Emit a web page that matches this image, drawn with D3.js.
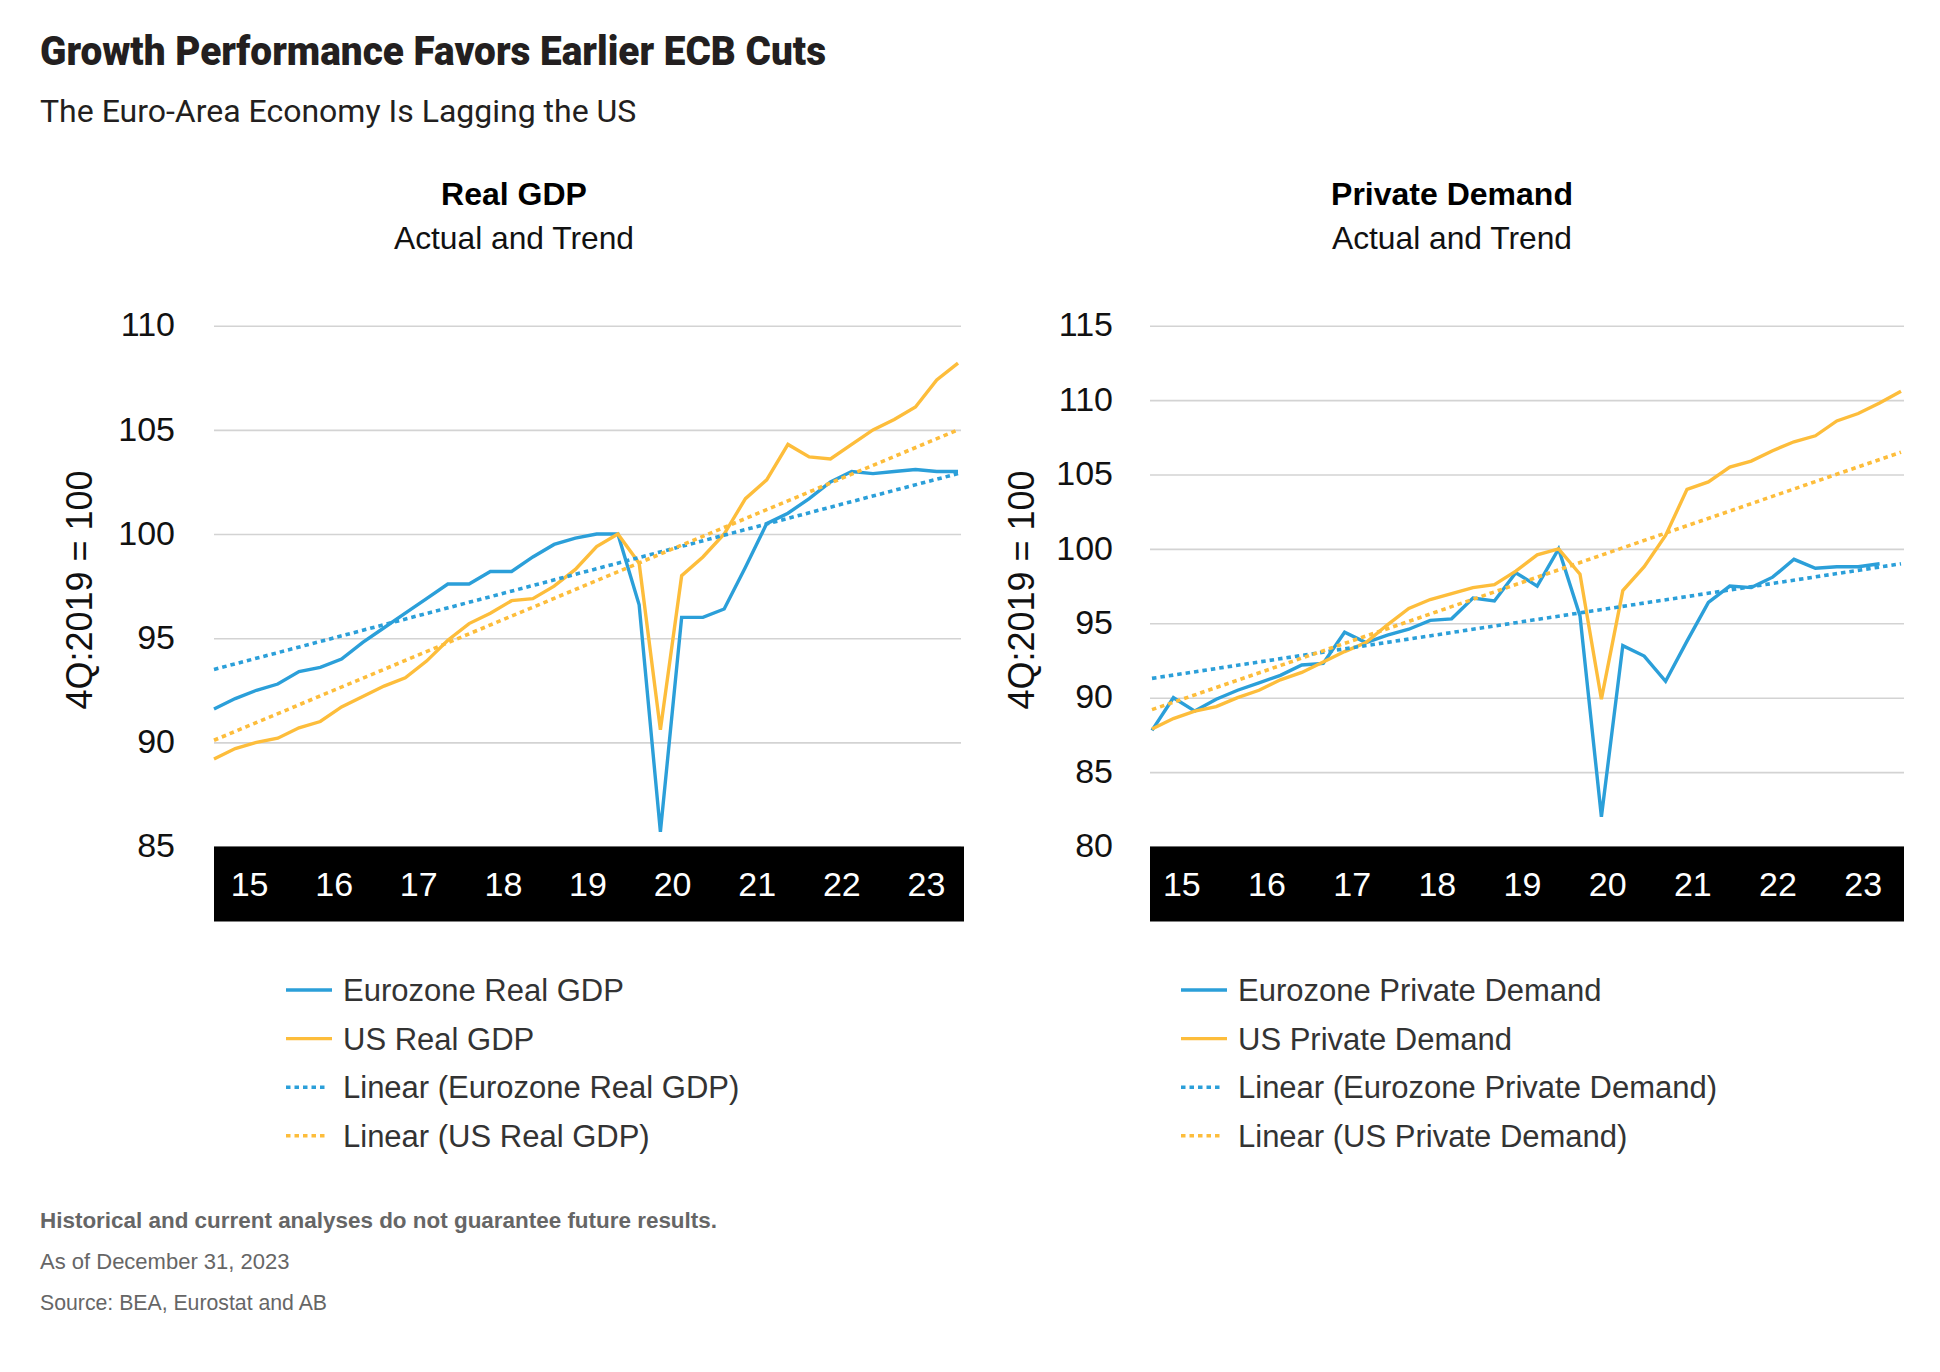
<!DOCTYPE html>
<html>
<head>
<meta charset="utf-8">
<script src="https://cdn.jsdelivr.net/npm/d3@7"></script>
<style>
  body { margin: 0; background: #fff; }
  svg { display: block; }
</style>
</head>
<body>
<div id="chart"></div>
<script>
// years on the black band, one point per quarter 2015Q1..2023Q4
const years = ["15", "16", "17", "18", "19", "20", "21", "22", "23"];
const quarters = years.flatMap(y => ["Q1", "Q2", "Q3", "Q4"].map(q => "20" + y + q));

// Real GDP, 4Q:2019 = 100
const ezGdp = [91.6, 92.1, 92.5, 92.8, 93.4, 93.6, 94.0, 94.8, 95.5, 96.2, 96.9, 97.6,
    97.6, 98.2, 98.2, 98.9, 99.5, 99.8, 100.0, 100.0, 96.6, 85.7, 96.0, 96.0,
    96.4, 98.4, 100.5, 101.0, 101.7, 102.5, 103.0, 102.9, 103.0, 103.1, 103.0, 103.0];
const usGdp = [89.2, 89.7, 90.0, 90.2, 90.7, 91.0, 91.7, 92.2, 92.7, 93.1, 93.9, 94.9,
    95.7, 96.2, 96.8, 96.9, 97.5, 98.3, 99.4, 100.0, 98.6, 90.6, 98.0, 98.9,
    100.0, 101.7, 102.6, 104.3, 103.7, 103.6, 104.3, 105.0, 105.5, 106.1, 107.4, 108.2];
// linear trend, value at first and last quarter
const ezGdpTrend = [93.5, 102.9];
const usGdpTrend = [90.1, 105.0];

// Private demand, 4Q:2019 = 100 (eurozone ends one quarter earlier)
const ezPd = [87.8, 90.0, 89.1, 89.9, 90.5, 91.0, 91.5, 92.2, 92.3, 94.4, 93.7, 94.2,
    94.6, 95.2, 95.3, 96.7, 96.5, 98.4, 97.5, 100.0, 95.5, 82.0, 93.5, 92.8,
    91.1, 93.8, 96.4, 97.5, 97.4, 98.1, 99.3, 98.7, 98.8, 98.8, 99.0];
const usPd = [87.9, 88.6, 89.1, 89.4, 90.0, 90.5, 91.2, 91.7, 92.4, 93.1, 93.7, 94.9,
    96.0, 96.6, 97.0, 97.4, 97.6, 98.5, 99.6, 100.0, 98.3, 89.9, 97.2, 98.8,
    100.9, 104.0, 104.5, 105.5, 105.9, 106.6, 107.2, 107.6, 108.6, 109.1, 109.8, 110.6];
const ezPdTrend = [91.3, 99.0];
const usPdTrend = [89.2, 106.5];

const gdpTicks = [85, 90, 95, 100, 105, 110];
const pdTicks = [80, 85, 90, 95, 100, 105, 110, 115];

const blue = "#2b9fd9",
    yellow = "#fdbd3b",
    grid = "#d3d3d3";

const width = 1940,
    height = 1372;

const svg = d3.select("#chart")
    .append("svg")
    .attr("width", width)
    .attr("height", height);

// squeeze text into a given width if the font runs wider than the original
function fitText(sel, w) {
    const len = sel.node().getComputedTextLength();
    if (len > w)
        sel.attr("textLength", w).attr("lengthAdjust", "spacingAndGlyphs");
    return sel;
}

// headline
fitText(svg.append("text")
    .attr("x", 40)
    .attr("y", 65)
    .text("Growth Performance Favors Earlier ECB Cuts")
    .style("font-family", "Roboto, 'Open Sans', sans-serif")
    .style("font-weight", 900)
    .style("font-size", "40px")
    .style("fill", "#231f20"), 786);

fitText(svg.append("text")
    .attr("x", 40)
    .attr("y", 122)
    .text("The Euro-Area Economy Is Lagging the US")
    .style("font-family", "Roboto, 'Open Sans', sans-serif")
    .style("font-size", "32px")
    .style("fill", "#231f20"), 597);

function drawPanel(cfg) {
    const g = svg.append("g");
    const x = d3.scaleLinear().domain([0, quarters.length - 1]).range([cfg.x0, cfg.x1]);
    const y = d3.scaleLinear().domain(d3.extent(cfg.ticks)).range([846.5, 325.7]);

    // titles
    g.append("text")
        .attr("x", cfg.titleX)
        .attr("y", 205)
        .attr("text-anchor", "middle")
        .text(cfg.title)
        .style("font-family", "'Liberation Sans', Arial, sans-serif")
        .style("font-weight", 700)
        .style("font-size", "32px")
        .style("fill", "#000");
    fitText(g.append("text")
        .attr("x", cfg.titleX)
        .attr("y", 249)
        .attr("text-anchor", "middle")
        .text("Actual and Trend")
        .style("font-family", "'Liberation Sans', Arial, sans-serif")
        .style("font-size", "32px")
        .style("fill", "#111"), 240);

    // gridlines
    g.append("g")
        .attr("transform", `translate(${cfg.gridL},0)`)
        .call(d3.axisRight(y).tickValues(cfg.ticks).tickSize(cfg.gridR - cfg.gridL).tickFormat(""))
        .call(a => a.select(".domain").remove())
        .call(a => a.selectAll("line").attr("stroke", grid).attr("stroke-width", 1.6));

    // y labels
    g.append("g")
        .attr("transform", `translate(${cfg.gridL},0)`)
        .call(d3.axisLeft(y).tickValues(cfg.ticks).tickSize(0).tickPadding(cfg.labelPad))
        .call(a => a.select(".domain").remove())
        .call(a => a.selectAll("text")
            .attr("dy", "0.3em")
            .style("font-family", "'Liberation Sans', Arial, sans-serif")
            .style("font-size", "34px")
            .style("fill", "#111"));

    g.append("text")
        .attr("transform", `translate(${cfg.axisTitleX},590) rotate(-90)`)
        .attr("text-anchor", "middle")
        .attr("dy", "0.35em")
        .text("4Q:2019 = 100")
        .style("font-family", "'Liberation Sans', Arial, sans-serif")
        .style("font-size", "36px")
        .style("fill", "#111");

    // black year band
    g.append("rect")
        .attr("x", cfg.gridL)
        .attr("y", y(cfg.ticks[0]))
        .attr("width", cfg.bandR - cfg.gridL)
        .attr("height", 75)
        .style("fill", "#000");
    g.append("g")
        .attr("transform", `translate(${cfg.labelShift},${y(cfg.ticks[0]) + 37})`)
        .call(d3.axisBottom(x)
            .tickValues(years.map((d, i) => i * 3.98 + 1.65))
            .tickFormat((d, i) => years[i])
            .tickSize(0).tickPadding(0))
        .call(a => a.select(".domain").remove())
        .call(a => a.selectAll("text")
            .attr("dy", "0.36em")
            .style("font-family", "'Liberation Sans', Arial, sans-serif")
            .style("font-size", "34px")
            .style("fill", "#fff"));

    const line = d3.line()
        .x((d, i) => x(i))
        .y(d => y(d));

    const trend = d3.line()
        .x(d => x(d[0]))
        .y(d => y(d[1]));

    g.append("path")
        .datum(cfg.ez)
        .attr("d", line)
        .attr("fill", "none")
        .attr("stroke", blue)
        .attr("stroke-width", 3.4)
        .attr("stroke-linejoin", "miter");
    g.append("path")
        .datum(cfg.us)
        .attr("d", line)
        .attr("fill", "none")
        .attr("stroke", yellow)
        .attr("stroke-width", 3.4)
        .attr("stroke-linejoin", "miter");

    [[cfg.ezTrend, blue], [cfg.usTrend, yellow]].forEach(function (t) {
        g.append("path")
            .datum([[0, t[0][0]], [quarters.length - 1, t[0][1]]])
            .attr("d", trend)
            .attr("fill", "none")
            .attr("stroke", t[1])
            .attr("stroke-width", 3.6)
            .attr("stroke-dasharray", "4.5,4");
    });

    // legend
    const items = [
        { name: "Eurozone " + cfg.name, color: blue, dash: null },
        { name: "US " + cfg.name, color: yellow, dash: null },
        { name: "Linear (Eurozone " + cfg.name + ")", color: blue, dash: "4.5,4" },
        { name: "Linear (US " + cfg.name + ")", color: yellow, dash: "4.5,4" }
    ];
    const leg = g.selectAll(".legend")
        .data(items)
        .join("g")
        .attr("class", "legend")
        .attr("transform", (d, i) => `translate(${cfg.legendX},${990 + i * 48.6})`);
    leg.append("line")
        .attr("x1", 0)
        .attr("x2", d => d.dash ? 42 : 46)
        .attr("stroke", d => d.color)
        .attr("stroke-width", 3.4)
        .attr("stroke-dasharray", d => d.dash);
    leg.append("text")
        .attr("x", 57)
        .attr("dy", "0.36em")
        .text(d => d.name)
        .style("font-family", "'Liberation Sans', Arial, sans-serif")
        .style("font-size", "31px")
        .style("fill", "#333");
}

drawPanel({
    title: "Real GDP", name: "Real GDP", titleX: 514,
    x0: 214, x1: 958, gridL: 214, gridR: 961, bandR: 964,
    labelPad: 39, axisTitleX: 79, legendX: 286, labelShift: 0,
    ticks: gdpTicks, ez: ezGdp, us: usGdp, ezTrend: ezGdpTrend, usTrend: usGdpTrend
});

drawPanel({
    title: "Private Demand", name: "Private Demand", titleX: 1452,
    x0: 1152, x1: 1901, gridL: 1150, gridR: 1904, bandR: 1904,
    labelPad: 37, axisTitleX: 1021, legendX: 1181, labelShift: -6,
    ticks: pdTicks, ez: ezPd, us: usPd, ezTrend: ezPdTrend, usTrend: usPdTrend
});

// footer
const foot = [
    { t: "Historical and current analyses do not guarantee future results.", y: 1228, w: 700, size: 22.5, max: 677 },
    { t: "As of December 31, 2023", y: 1269, w: 400, size: 22, max: 251 },
    { t: "Source: BEA, Eurostat and AB", y: 1310, w: 400, size: 22, max: 287 }
];
foot.forEach(function (f) {
    fitText(svg.append("text")
        .attr("x", 40)
        .attr("y", f.y)
        .text(f.t)
        .style("font-family", "'Liberation Sans', Arial, sans-serif")
        .style("font-weight", f.w)
        .style("font-size", f.size + "px")
        .style("fill", "#666"), f.max);
});
</script>
</body>
</html>
